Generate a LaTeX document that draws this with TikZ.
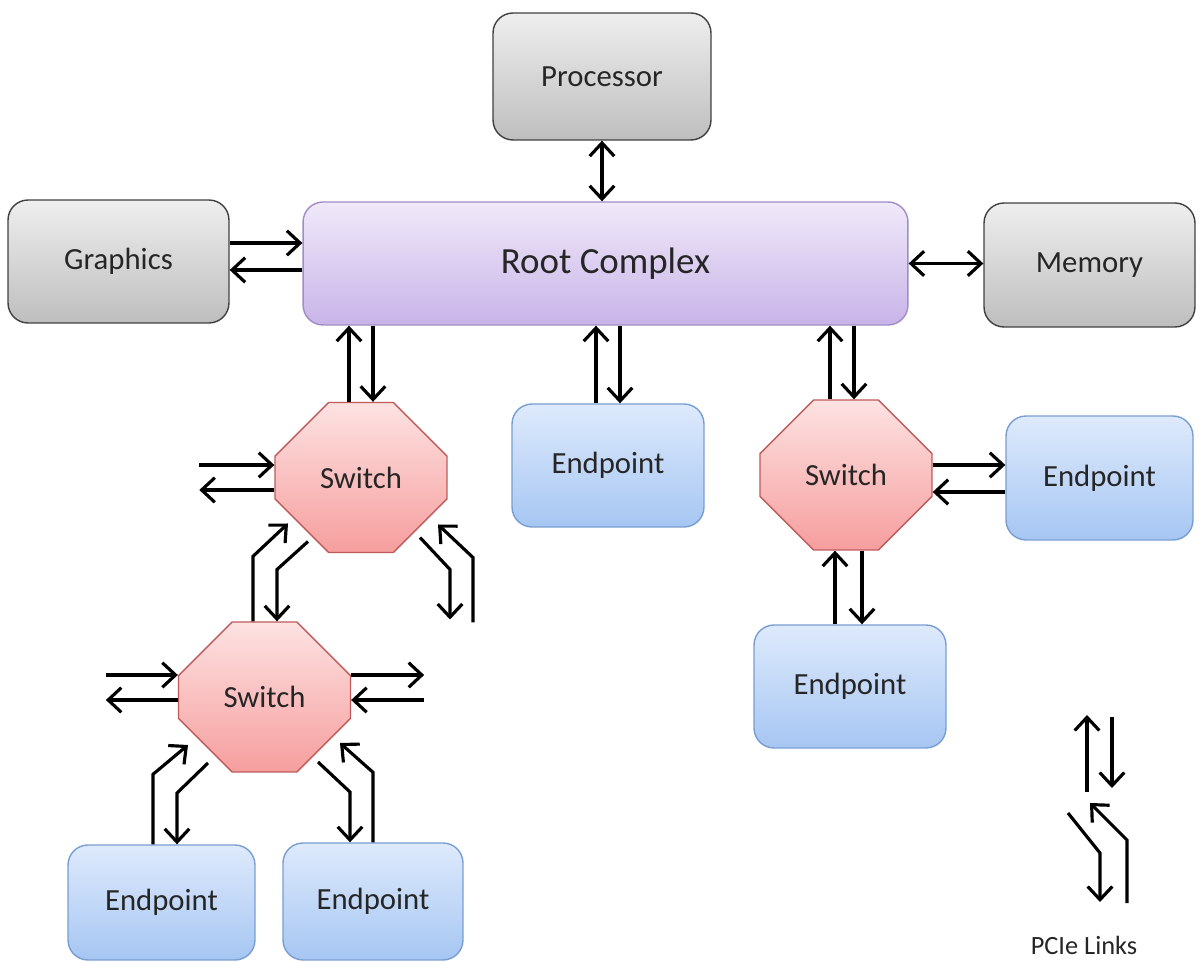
\documentclass[tikz,border=0pt]{standalone}
\usepackage{fontspec}
\setmainfont{Carlito}
\usetikzlibrary{arrows.meta,shapes.misc,calc}
\definecolor{hosttop}{RGB}{238,238,238}
\definecolor{hostbot}{RGB}{190,190,190}
\definecolor{roottop}{RGB}{240,233,249}
\definecolor{rootbot}{RGB}{200,180,232}
\definecolor{rootline}{RGB}{160,140,200}
\definecolor{eptop}{RGB}{222,234,252}
\definecolor{epbot}{RGB}{166,198,242}
\definecolor{epline}{RGB}{120,158,210}
\definecolor{swtop}{RGB}{253,226,226}
\definecolor{swbot}{RGB}{246,158,158}
\definecolor{swline}{RGB}{190,90,90}
\begin{document}
\begin{tikzpicture}[x=0.02cm,y=-0.02cm,
  box/.style={rounded corners=0.4cm,draw,line width=0.8pt,text=black!85,font=\fontsize{17.5}{20}\selectfont},
  hostbox/.style={box,draw=black!75,top color=hosttop,bottom color=hostbot},
  rootbox/.style={box,draw=rootline,top color=roottop,bottom color=rootbot,font=\fontsize{21}{24}\selectfont},
  epbox/.style={box,draw=epline,top color=eptop,bottom color=epbot},
  switchbox/.style={chamfered rectangle,chamfered rectangle sep=0.74cm,draw=swline,line width=0.8pt,
    top color=swtop,bottom color=swbot,minimum width=3.44cm,minimum height=3cm,text=black!85,
    font=\fontsize{17.5}{20}\selectfont},
  link/.style={line width=1.8pt,-{Straight Barb[length=7.5pt,width=14pt]}},
  dlink/.style={line width=1.8pt,{Straight Barb[length=7.5pt,width=14pt]}-{Straight Barb[length=7.5pt,width=14pt]}}]
  \useasboundingbox (0,0) rectangle (1201,962);
  % hosts
  \node[hostbox,minimum width=4.36cm,minimum height=2.54cm] (proc) at (602,76.5) {Processor};
  \node[rootbox,minimum width=12.1cm,minimum height=2.46cm] (root) at (605.5,263.5) {Root Complex};
  \node[hostbox,minimum width=4.42cm,minimum height=2.46cm] (gfx) at (118.5,261.5) {Graphics};
  \node[hostbox,minimum width=4.22cm,minimum height=2.48cm] (mem) at (1089.5,265) {Memory};
  % switches
  \node[switchbox] (swa) at (361,477.5) {Switch};
  \node[switchbox] (swb) at (264.5,697) {Switch};
  \node[switchbox] (swc) at (846,475) {Switch};
  % endpoints
  \node[epbox,minimum width=3.84cm,minimum height=2.46cm] (epm) at (608,465.5) {Endpoint};
  \node[epbox,minimum width=3.74cm,minimum height=2.48cm] (epr) at (1099.5,478) {Endpoint};
  \node[epbox,minimum width=3.84cm,minimum height=2.46cm] (epc) at (850,686.5) {Endpoint};
  \node[epbox,minimum width=3.74cm,minimum height=2.3cm] (epa) at (161.5,902.5) {Endpoint};
  \node[epbox,minimum width=3.6cm,minimum height=2.34cm] (epb) at (373,901.5) {Endpoint};

  % host links
  \draw[dlink] (proc.south) -- (proc.south |- root.north);
  \draw[dlink] (root.east) -- (root.east -| mem.west);
  \draw[link] ([yshift=0.37cm]gfx.east) -- ([yshift=0.37cm]gfx.east -| root.west);
  \draw[link] ([yshift=-0.17cm]gfx.east -| root.west) -- ([yshift=-0.17cm]gfx.east);

  % root links
  \draw[link] ([xshift=-0.24cm]swa.north) -- ([xshift=-0.24cm]swa.north |- root.south);
  \draw[link] ([xshift=0.24cm]swa.north |- root.south) -- ([xshift=0.24cm]swa.north);
  \draw[link] ([xshift=-0.24cm]epm.north) -- ([xshift=-0.24cm]epm.north |- root.south);
  \draw[link] ([xshift=0.24cm]epm.north |- root.south) -- ([xshift=0.24cm]epm.north);
  \draw[link] ([xshift=-0.32cm]swc.north) -- ([xshift=-0.32cm]swc.north |- root.south);
  \draw[link] ([xshift=0.16cm]swc.north |- root.south) -- ([xshift=0.16cm]swc.north);

  % right switch
  \draw[link] ([yshift=0.2cm]swc.east) -- ([yshift=0.2cm]swc.east -| epr.west);
  \draw[link] ([yshift=-0.34cm]swc.east -| epr.west) -- ([yshift=-0.34cm]swc.east);
  \draw[link] ([xshift=-0.22cm]swc.south |- epc.north) -- ([xshift=-0.22cm]swc.south);
  \draw[link] ([xshift=0.32cm]swc.south) -- ([xshift=0.32cm]swc.south |- epc.north);

  % upper left switch
  \draw[link] ([yshift=0.25cm,xshift=-1.5cm]swa.west) -- ([yshift=0.25cm]swa.west);
  \draw[link] ([yshift=-0.25cm]swa.west) -- ([yshift=-0.25cm,xshift=-1.5cm]swa.west);
  \draw[link] ([xshift=-0.23cm]swb.north) -- ++(0,-65) -- ($(swa)+(-73,46)$);
  \draw[link] ($(swa)+(-53,64)$) -- ++(-31,28) -- ([xshift=0.25cm]swb.north);
  \draw[link] ($(swa)+(59,60)$) -- ++(30,32) -- ++(0,50);
  \draw[link] ($(swa)+(112,145)$) -- ++(0,-65) -- ($(swa)+(77,47)$);

  % lower left switch
  \draw[link] ([yshift=0.44cm,xshift=-1.44cm]swb.west) -- ([yshift=0.44cm]swb.west);
  \draw[link] ([yshift=-0.06cm]swb.west) -- ([yshift=-0.06cm,xshift=-1.44cm]swb.west);
  \draw[link] ([yshift=0.44cm]swb.east) -- ([yshift=0.44cm,xshift=1.46cm]swb.east);
  \draw[link] ([yshift=-0.06cm,xshift=1.46cm]swb.east) -- ([yshift=-0.06cm]swb.east);
  \draw[link] ([xshift=-0.17cm]epa.north) -- ++(0,-70) -- ($(swb)+(-76.5,48)$);
  \draw[link] ($(swb)+(-56.5,66)$) -- ++(-31,30) -- ([xshift=0.31cm]epa.north);
  \draw[link] ($(swb)+(53.5,65)$) -- ++(32,30) -- ([xshift=-0.46cm]epb.north);
  \draw[link] (epb.north) -- ++(0,-70) -- ($(swb)+(75.5,46)$);

  % legend
  \node[text=black!85,font=\fontsize{15}{17}\selectfont] (legend) at (1084,945) {PCIe Links};
  \coordinate (lg) at (1087,792);
  \draw[link] (lg) -- ++(0,-77);
  \draw[link] ($(lg)+(25,-75)$) -- ++(0,71);
  \draw[link] ($(lg)+(-19,21)$) -- ++(32,40) -- ++(0,49);
  \draw[link] ($(lg)+(40,111)$) -- ++(0,-63) -- ++(-37,-37);
\end{tikzpicture}
\end{document}
